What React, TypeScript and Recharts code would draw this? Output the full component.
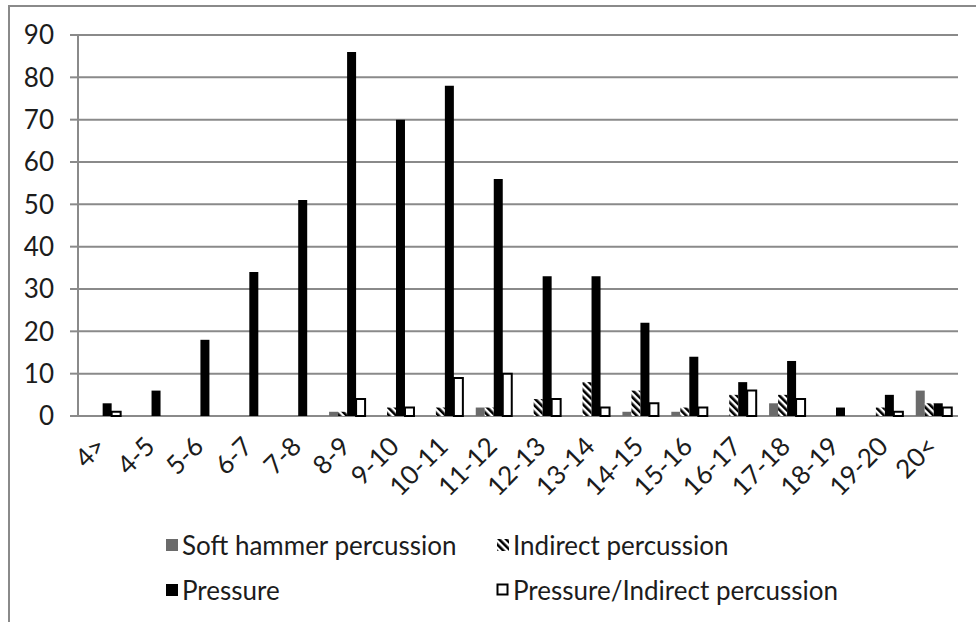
import React from 'react';
import { BarChart, Bar, XAxis, YAxis, CartesianGrid, Legend } from 'recharts';

const categories = ['4>', '4-5', '5-6', '6-7', '7-8', '8-9', '9-10', '10-11', '11-12', '12-13', '13-14', '14-15', '15-16', '16-17', '17-18', '18-19', '19-20', '20<'];
const softHammer = [0, 0, 0, 0, 0, 1, 0, 0, 2, 0, 0, 1, 1, 0, 3, 0, 0, 6];
const indirect = [0, 0, 0, 0, 0, 1, 2, 2, 2, 4, 8, 6, 2, 5, 5, 0, 2, 3];
const pressure = [3, 6, 18, 34, 51, 86, 70, 78, 56, 33, 33, 22, 14, 8, 13, 2, 5, 3];
const pressureIndirect = [1, 0, 0, 0, 0, 4, 2, 9, 10, 4, 2, 3, 2, 6, 4, 0, 1, 2];
const yTicks = [0, 10, 20, 30, 40, 50, 60, 70, 80, 90];

const data = categories.map((c, i) => ({
  cat: c,
  soft: softHammer[i],
  indirect: indirect[i],
  pressure: pressure[i],
  pi: pressureIndirect[i],
}));
const boundaryTicks = Array.from({ length: categories.length + 1 }, (_, i) => i);

const FONT = 'Lato, "Liberation Sans", sans-serif';
const TEXT = '#1c1c1c';
const AXIS = '#8a8a8a';
const FS = 26;

const series = [
  { key: 'soft', name: 'Soft hammer percussion', fill: '#6b6b6b', stroke: 'none', sw: 0 },
  { key: 'indirect', name: 'Indirect percussion', fill: 'url(#stripes)', stroke: 'none', sw: 0 },
  { key: 'pressure', name: 'Pressure', fill: '#000000', stroke: 'none', sw: 0 },
  { key: 'pi', name: 'Pressure/Indirect percussion', fill: '#ffffff', stroke: '#000000', sw: 2 },
];

const XTick = (props: any) => {
  const { x, y, payload } = props;
  return (
    <g transform={`translate(${x + 5},${y + 32})`}>
      <text x={0} y={0} textAnchor="end" transform="rotate(-45)" fill={TEXT} fontSize={FS} fontFamily={FONT}>
        {payload.value}
      </text>
    </g>
  );
};

const LegendContent = (props: any) => {
  const payload = props.payload || [];
  return (
    <div style={{ display: 'grid', gridTemplateColumns: '331px 420px', rowGap: 0, paddingLeft: 165, fontFamily: FONT, fontSize: FS, color: TEXT }}>
      {series.map((s) => {
        const p = payload.find((q: any) => q.dataKey === s.key);
        return (
          <div key={s.key} style={{ display: 'flex', alignItems: 'center', height: 45, whiteSpace: 'nowrap' }}>
            <svg width={14} height={14} style={{ marginRight: 3 }}>
              <rect x={s.sw ? 1.5 : 1} y={s.sw ? 1.5 : 1} width={s.sw ? 10 : 12} height={s.sw ? 10 : 12} fill={s.fill} stroke={s.stroke} strokeWidth={s.sw} />
            </svg>
            <span>{p ? p.value : s.name}</span>
          </div>
        );
      })}
    </div>
  );
};

export default function App() {
  return (
    <div style={{ position: 'absolute', left: 0, top: 0, width: 976, height: 622, overflow: 'hidden', background: '#fff' }}>
      <div style={{ position: 'absolute', left: 8, top: 5, width: 1100, height: 800, border: `2px solid ${AXIS}` }} />
      <div style={{ position: 'absolute', left: 0, top: 0 }}>
        <BarChart
          width={976}
          height={622}
          data={data}
          margin={{ top: 35, right: 18, left: 0, bottom: 106 }}
          barCategoryGap="13.6%"
          barGap={0}
        >
          <defs>
            <pattern id="stripes" patternUnits="userSpaceOnUse" width={5} height={5} patternTransform="rotate(-45)">
              <rect x={0} y={0} width={5} height={5} fill="#ffffff" />
              <rect x={0} y={0} width={2.6} height={5} fill="#000000" />
            </pattern>
          </defs>
          <CartesianGrid xAxisId="cat" vertical={false} stroke={AXIS} strokeWidth={2} />
          <XAxis
            xAxisId="ticks"
            type="number"
            domain={[0, categories.length]}
            ticks={boundaryTicks}
            tick={false}
            height={0}
            stroke={AXIS}
            strokeWidth={2}
            tickSize={7}
            allowDataOverflow
          />
          <XAxis
            xAxisId="cat"
            dataKey="cat"
            interval={0}
            axisLine={false}
            tickLine={false}
            tickSize={0}
            tickMargin={0}
            height={100}
            tick={<XTick />}
          />
          <YAxis
            domain={[0, 90]}
            ticks={yTicks}
            width={78}
            stroke={AXIS}
            strokeWidth={2}
            tickSize={8}
            tickMargin={16}
            tick={{ fill: TEXT, fontSize: FS, fontFamily: FONT }}
            interval={0}
          />
          {series.map((s) => (
            <Bar
              key={s.key}
              xAxisId="cat"
              dataKey={s.key}
              name={s.name}
              fill={s.fill}
              stroke={s.stroke}
              strokeWidth={s.sw}
              isAnimationActive={false}
            />
          ))}
          <Legend
            verticalAlign="middle"
            align="center"
            layout="horizontal"
            content={<LegendContent />}
            wrapperStyle={{ top: 522, left: 0, width: 976, height: 90 }}
          />
        </BarChart>
      </div>
    </div>
  );
}
